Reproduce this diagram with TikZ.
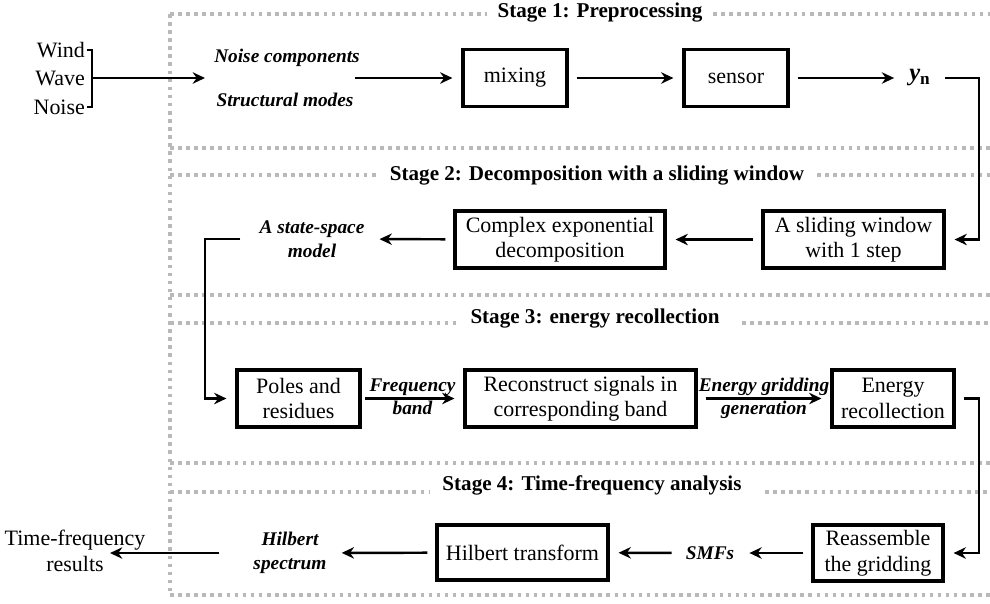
\documentclass[tikz,border=0pt]{standalone}
\usepackage{fontspec}
\setmainfont{Liberation Serif}
\usepackage{tikz}
\usetikzlibrary{arrows.meta}

\begin{document}
\begin{tikzpicture}[x=0.02cm, y=-0.02cm,
    every node/.style={font=\fontsize{12.5}{14.5}\selectfont},
    box/.style={draw=black, line width=1.8pt, align=center, minimum height=1.14cm, inner sep=2pt},
    lbl/.style={font=\fontsize{11}{13.5}\selectfont\bfseries\itshape, align=center},
    onarr/.style={lbl, inner sep=1pt},
    ttl/.style={font=\fontsize{12}{14}\selectfont\bfseries, anchor=base},
    stageline/.style={draw=gray!55, line width=2pt, dash pattern=on 2pt off 2.6pt},
    arr/.style={-{Stealth[length=7pt,width=6.5pt]}, line width=1.4pt, shorten <=0.16cm, shorten >=0.18cm}]
    \useasboundingbox (0,0) rectangle (990,603);

    % Stage frames
    \draw[stageline] (170,14) -- (170,595);
    \draw[stageline] (170,14) -- (487,14) (713,14) -- (990,14);
    \draw[stageline] (170,148) -- (990,148);
    \draw[stageline] (170,175) -- (377,175) (817,175) -- (990,175);
    \draw[stageline] (170,295) -- (990,295);
    \draw[stageline] (170,323) -- (458,323) (742,323) -- (990,323);
    \draw[stageline] (170,463) -- (990,463);
    \draw[stageline] (170,492) -- (430,492) (765,492) -- (990,492);
    \draw[stageline] (170,595) -- (990,595);
    \node[ttl] (st1) at (600,17) {Stage 1: Preprocessing};
    \node[ttl] (st2) at (597,180) {Stage 2: Decomposition with a sliding window};
    \node[ttl] (st3) at (595,323) {Stage 3: energy recollection};
    \node[ttl] (st4) at (592,490) {Stage 4: Time-frequency analysis};

    % Inputs
    \node[anchor=east, inner sep=1pt] (wind) at (87,50) {Wind};
    \node[anchor=east, inner sep=1pt] (wave) at (87,78) {Wave};
    \node[anchor=east, inner sep=1pt] (nois) at (87,107) {Noise};
    \draw[line width=0.7pt] (wind.east) -- ++(5,0) |- (nois.east);
    \coordinate (brk) at (92,78);
    \coordinate (inL) at (205,78);
    \draw[arr, shorten <=0pt, shorten >=0pt] (brk) -- (inL);

    % Stage 1
    \node[lbl] (ncomp) at (287,58) {Noise components};
    \node[lbl] (smode) at (285,100) {Structural modes};
    \coordinate (inR) at (355,78);
    \node[box, minimum width=2.08cm] (mix) at (515,78) {mixing};
    \node[box, minimum width=2.08cm] (sens) at (736,78) {sensor};
    \node (yn) at (920,78) {\fontsize{14}{16}\selectfont\bfseries\itshape y\textsubscript{\upshape n}};
    \draw[arr, shorten <=0pt] (inR) -- (mix);
    \draw[arr] (mix) -- (sens);
    \draw[arr] (sens) -- (yn);

    % Stage 2
    \node[box, minimum width=3.62cm] (slide) at (853.5,239.5) {A sliding window\\with 1 step};
    \node[box, minimum width=4.2cm] (cexp) at (560,239.5) {Complex exponential\\decomposition};
    \node[lbl] (ssm) at (312,239) {A state-space\\model};
    \coordinate (turnA) at (979,239.5);
    \draw[arr] (yn) -| (turnA) -- (slide);
    \draw[arr] (slide) -- (cexp);
    \draw[arr] (cexp) -- (ssm);

    % Stage 3
    \node[box, minimum width=2.46cm] (poles) at (298.5,398.5) {Poles and\\residues};
    \node[box, minimum width=4.62cm] (recon) at (580.5,398.5) {Reconstruct signals in\\corresponding band};
    \node[box, minimum width=2.44cm] (enrg) at (893,398.5) {Energy\\recollection};
    \coordinate (turnB) at (205,398.5);
    \draw[arr, shorten <=0.26cm] (ssm) -| (turnB) -- (poles);
    \draw[arr, shorten <=2pt] (poles) -- node[onarr, above]{Frequency} node[onarr, below]{band} (recon);
    \draw[arr] (recon) -- node[onarr, above]{Energy gridding} node[onarr, below]{generation} (enrg);

    % Stage 4
    \node[box, minimum width=2.6cm, minimum height=1.12cm] (reasm) at (878,553) {Reassemble\\the gridding};
    \node[lbl] (smf) at (710,553) {SMFs};
    \node[box, minimum width=3.42cm, minimum height=1.1cm] (hilb) at (522.5,552.5) {Hilbert transform};
    \node[lbl] (hspec) at (290,553) {Hilbert\\spectrum};
    \node[align=center, font=\fontsize{12.5}{15}\selectfont] (tfr) at (75,551) {Time-frequency\\results};
    \coordinate (turnC) at (979,553);
    \coordinate (outL) at (110,553);
    \draw[arr] (enrg) -| (turnC) -- (reasm);
    \draw[arr] (reasm) -- (smf);
    \draw[arr] (smf) -- (hilb);
    \draw[arr] (hilb) -- (hspec);
    \draw[arr, shorten <=0.56cm, shorten >=0pt] (hspec) -- (outL);
\end{tikzpicture}
\end{document}
